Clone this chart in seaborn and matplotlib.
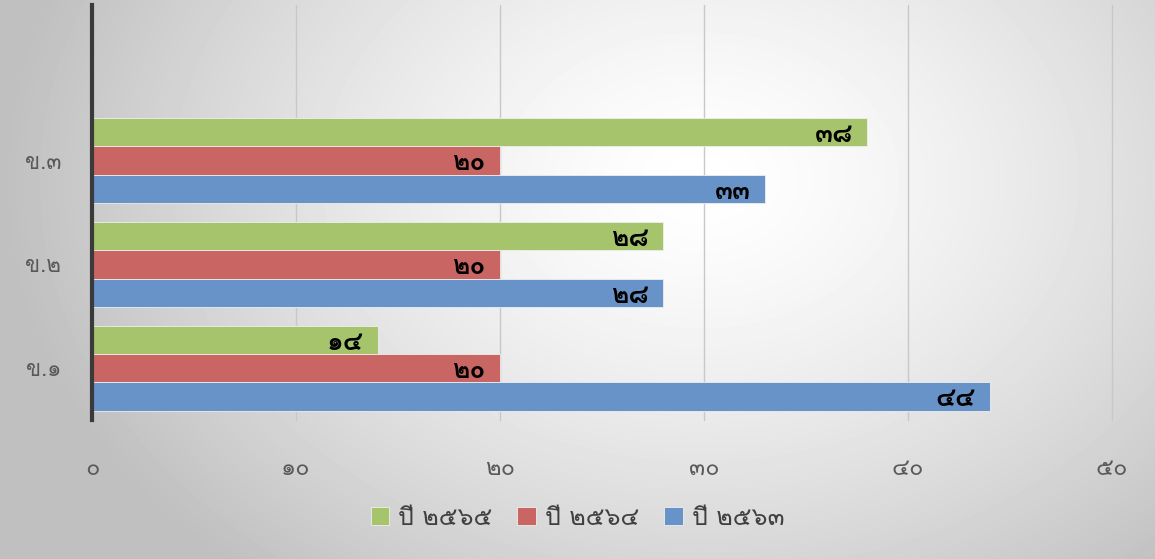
import numpy as np
import pandas as pd
import matplotlib
matplotlib.use('Agg')
import matplotlib.pyplot as plt
import seaborn as sns
from matplotlib import font_manager

# data
groups = ['ข.๑', 'ข.๒', 'ข.๓']
years = ['ปี ๒๕๖๕', 'ปี ๒๕๖๔', 'ปี ๒๕๖๓']
vals_2565 = [14, 28, 38]
vals_2564 = [20, 20, 20]
vals_2563 = [44, 28, 33]
xticks = [0, 10, 20, 30, 40, 50]
colors = ['#A5C46B', '#C96664', '#6893C8']

thai_digits = str.maketrans('0123456789', '๐๑๒๓๔๕๖๗๘๙')

# find a font with Thai glyphs
thai_font = None
for f in font_manager.fontManager.ttflist:
    try:
        if font_manager.get_font(f.fname).get_char_index(0x0E51):
            thai_font = f.name
            break
    except Exception:
        pass

sns.set_style('white')
fams = ([thai_font] if thai_font else []) + ['DejaVu Sans']
plt.rcParams['font.family'] = fams

df = pd.DataFrame({
    'group': groups * 3,
    'year': [years[0]] * 3 + [years[1]] * 3 + [years[2]] * 3,
    'value': vals_2565 + vals_2564 + vals_2563,
})

fig = plt.figure(figsize=(11.55, 5.59), dpi=100)

# radial grey background
bg = fig.add_axes([0, 0, 1, 1], zorder=-2)
yy, xx = np.mgrid[0:559, 0:1155]
r = np.sqrt(((xx - 700) / 700.0) ** 2 + ((yy - 180) / 520.0) ** 2)
shade = np.clip(1.0 - 0.25 * r ** 1.4, 0.75, 1.0)
bg.imshow(shade, cmap='gray', vmin=0, vmax=1, aspect='auto')
bg.axis('off')

ax = fig.add_axes([0.0797, 0.2487, 0.8831, 0.7424])
ax.patch.set_alpha(0)

sns.barplot(data=df, y='group', x='value', hue='year',
            order=groups[::-1], hue_order=years, palette=colors,
            saturation=1, orient='h', width=0.82,
            edgecolor='#eeeeee', linewidth=0.6,
            ax=ax, legend=True, zorder=3)

ax.set_xlim(0, 50)
ax.set_ylim(2.5, -1.5)
ax.set_xticks(xticks)
ax.set_xticklabels([str(t).translate(thai_digits) for t in xticks])
ax.xaxis.grid(True, color='#c8c8c8', linewidth=1.0, zorder=0)
for gl in ax.get_xgridlines():
    gl.set_clip_on(False)
ax.set_axisbelow(True)
ax.tick_params(axis='x', length=0, pad=27, labelsize=17, labelcolor='#595959')
ax.tick_params(axis='y', length=0, pad=22, labelsize=16, labelcolor='#595959')
ax.set_xlabel('')
ax.set_ylabel('')
for s in ['top', 'right', 'bottom']:
    ax.spines[s].set_visible(False)
ax.spines['left'].set_color('#3a3a3a')
ax.spines['left'].set_linewidth(3)
ax.spines['left'].set_zorder(5)

# data labels at bar ends
for p in ax.patches:
    w = p.get_width()
    if w == 0 or np.isnan(w):
        continue
    ax.text(w - 0.7, p.get_y() + p.get_height() * 0.6,
            str(int(round(w))).translate(thai_digits),
            ha='right', va='center', fontsize=19, fontweight='bold',
            color='black', zorder=6)

handles, labels = ax.get_legend_handles_labels()
ax.legend_.remove()
fig.legend(handles, labels, loc='center', bbox_to_anchor=(0.5, 0.073),
           ncol=3, frameon=False, fontsize=18, labelcolor='#404040',
           handlelength=0.75, handleheight=0.75, handletextpad=0.35,
           columnspacing=1.0)

fig.savefig('out.png', dpi=100)
